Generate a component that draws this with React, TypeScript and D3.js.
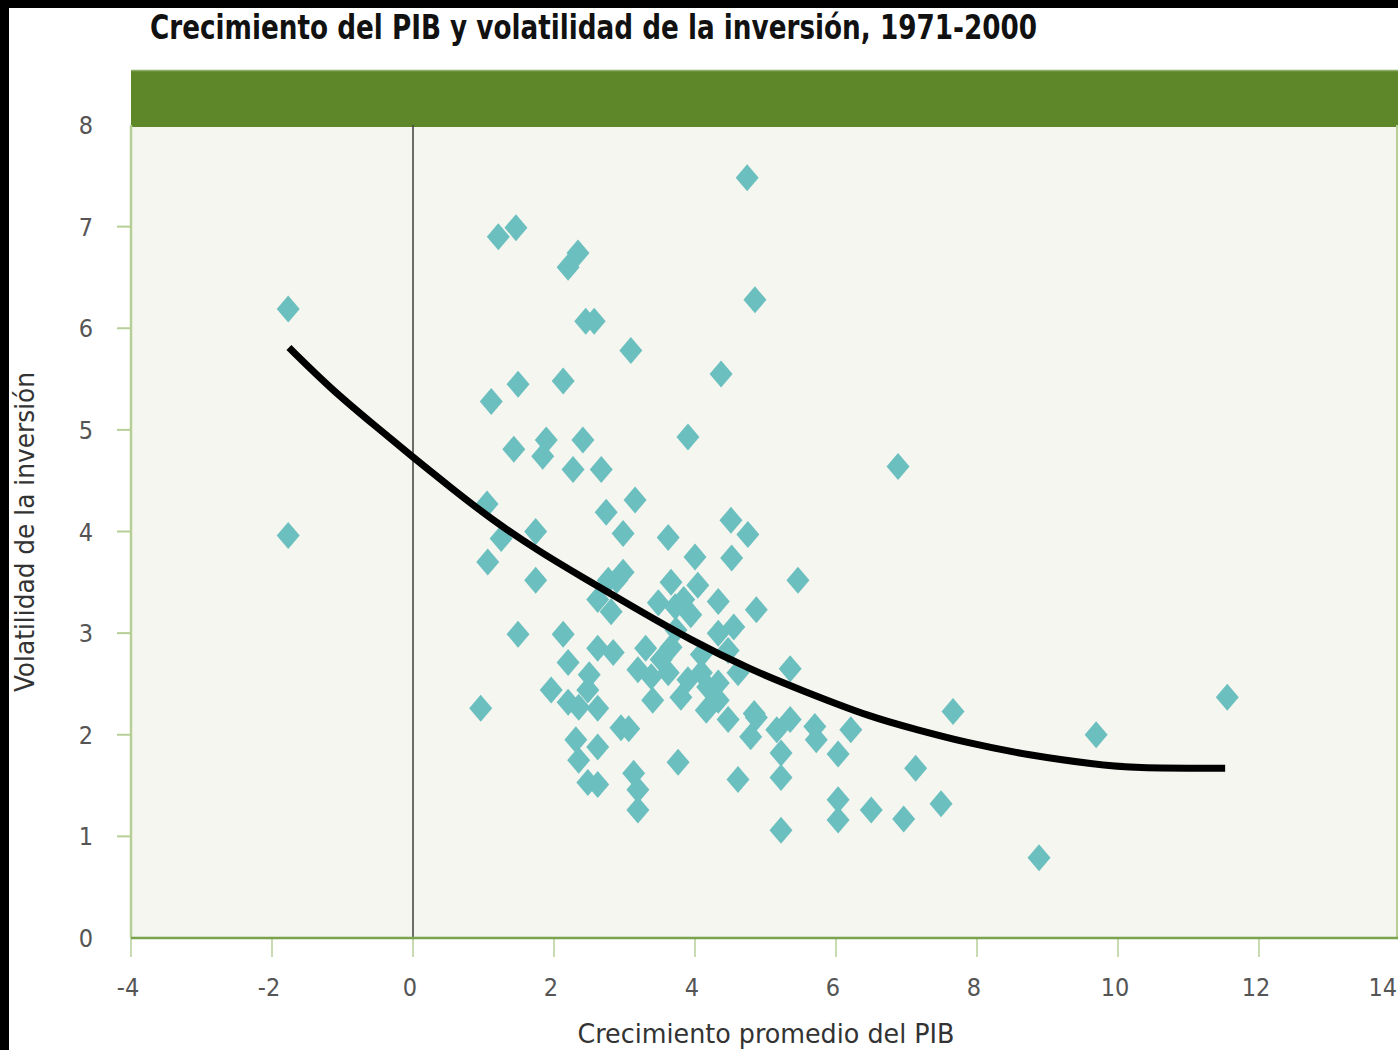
import React from "react";
import * as d3 from "d3";

const titleText = "Crecimiento del PIB y volatilidad de la inversión, 1971-2000";
const xAxisTitle = "Crecimiento promedio del PIB";
const yAxisTitle = "Volatilidad de la inversión";

const xTicks = [-4, -2, 0, 2, 4, 6, 8, 10, 12, 14];
const yTicks = [0, 1, 2, 3, 4, 5, 6, 7, 8];

const growth = [
  -1.77, -1.77, 0.96, 1.11, 1.06, 1.05, 1.21, 1.46, 1.25, 1.43, 1.49, 1.49, 1.74, 1.74, 1.96, 1.89, 1.84,
  2.13, 2.13, 2.2, 2.34, 2.45, 2.57, 2.41, 2.27, 2.67, 3.09, 3.9, 4.85, 4.37, 4.74, 2.74, 3.15, 4.51,
  2.98, 3.62, 4.0, 4.75, 4.52, 5.46, 6.88, 11.55, 9.69, 7.66, 8.88, 2.2, 2.62, 2.84, 3.3, 2.98, 2.77,
  2.62, 2.81, 3.48, 3.66, 3.84, 3.94, 4.04, 4.33, 4.87, 5.35, 4.33, 4.55, 4.47, 4.61, 3.19, 3.38, 3.4,
  3.62, 3.9, 4.09, 4.18, 3.8, 4.16, 4.33, 4.47, 2.5, 2.48, 2.2, 2.35, 2.62, 2.95, 2.31, 2.62, 2.35, 2.48,
  2.62, 3.13, 3.19, 3.19, 3.76, 4.61, 4.84, 4.79, 5.16, 5.35, 5.22, 5.22, 5.22, 5.7, 5.72, 6.21, 6.03,
  6.03, 6.03, 6.5, 6.96, 7.13, 7.49, 4.87, 3.66, 3.73, 3.52, 4.09, 4.33, 3.06, 2.89, 3.72,
];
const volatility = [
  6.19, 3.96, 2.26, 5.28, 3.7, 4.27, 6.9, 6.99, 3.93, 4.81, 5.45, 2.99, 4.0, 3.52, 2.44, 4.9, 4.74,
  5.48, 2.99, 6.6, 6.74, 6.07, 6.07, 4.9, 4.61, 4.61, 5.78, 4.93, 6.28, 5.55, 7.48, 4.19, 4.31, 4.11,
  3.98, 3.94, 3.75, 3.97, 3.74, 3.52, 4.64, 2.37, 2.0, 2.23, 0.79, 2.71, 2.85, 2.81, 2.85, 3.6, 3.52,
  3.33, 3.21, 3.3, 3.5, 3.33, 3.18, 3.47, 3.31, 3.23, 2.65, 3.0, 3.06, 2.83, 2.61, 2.64, 2.57, 2.34,
  2.61, 2.54, 2.61, 2.47, 2.37, 2.24, 2.34, 2.15, 2.59, 2.44, 2.32, 2.27, 2.26, 2.07, 1.95, 1.88, 1.75, 1.53,
  1.51, 1.62, 1.46, 1.26, 1.73, 1.56, 2.21, 1.98, 2.05, 2.15, 1.82, 1.58, 1.06, 2.08, 1.95, 2.05, 1.81,
  1.36, 1.16, 1.26, 1.17, 1.67, 1.32, 2.17, 2.86, 3.03, 2.74, 2.79, 2.51, 2.06, 3.52, 3.26,
];

const fitGrowth = [-1.76, -1.16, -0.52, 0, 0.54, 1.11, 1.82, 2.38, 3.09, 3.94, 4.79, 5.5, 6.5, 7.15, 7.79, 8.79, 9.67, 10.2, 11.52];
const fitVolatility = [5.81, 5.4, 5.03, 4.73, 4.43, 4.12, 3.79, 3.56, 3.27, 2.93, 2.64, 2.44, 2.17, 2.05, 1.93, 1.79, 1.71, 1.67, 1.67];

const W = 1398;
const H = 1050;
const plotLeft = 131;
const plotRight = 1398;
const plotTop = 125;
const plotBottom = 938;
const bandTop = 70;

const labelFont = "'Liberation Sans Narrow', 'DejaVu Sans Condensed', 'Open Sans', sans-serif";

export default function App() {
  const x = d3.scaleLinear().domain([-4, 14]).range([plotLeft, 1400]);
  const y = d3.scaleLinear().domain([0, 8]).range([plotBottom, plotTop]);

  const pts = growth.map((g, i) => ({ g, v: volatility[i] }));
  const fit = fitGrowth.map((g, i) => ({ g, v: fitVolatility[i] }));
  const line = d3
    .line<{ g: number; v: number }>()
    .x((d) => x(d.g))
    .y((d) => y(d.v))
    .curve(d3.curveBasis);

  const hw = 11.5;
  const hh = 13.5;
  const diamond = (cx: number, cy: number) =>
    `M${cx},${cy - hh}L${cx + hw},${cy}L${cx},${cy + hh}L${cx - hw},${cy}Z`;

  return (
    <svg
      width={W}
      height={H}
      style={{ position: "absolute", left: 0, top: 0, display: "block" }}
    >
      <rect x={0} y={0} width={W} height={H} fill="#ffffff" />
      <rect x={0} y={0} width={W} height={8} fill="#000000" />
      <rect x={0} y={0} width={9} height={H} fill="#000000" />

      <text
        x={150}
        y={39}
        fontFamily={labelFont}
        fontWeight="bold"
        fontSize={33}
        fill="#111"
        textLength={887}
        lengthAdjust="spacingAndGlyphs"
      >
        {titleText}
      </text>

      {/* green header band */}
      <rect x={plotLeft} y={bandTop} width={plotRight - plotLeft} height={plotTop - bandTop + 2} fill="#5e872a" />
      <line x1={plotLeft} x2={plotRight} y1={bandTop + 0.5} y2={bandTop + 0.5} stroke="#8fae6a" strokeWidth={1.5} />

      {/* plot background */}
      <rect x={plotLeft} y={plotTop + 2} width={plotRight - plotLeft} height={plotBottom - plotTop - 2} fill="#f5f6f0" />
      <line x1={plotRight - 1} x2={plotRight - 1} y1={plotTop} y2={plotBottom} stroke="#b6cf97" strokeWidth={2} />

      {/* zero line */}
      <line x1={x(0)} x2={x(0)} y1={plotTop} y2={plotBottom} stroke="#4a4a4a" strokeWidth={1.6} />

      {/* axes */}
      <line x1={plotLeft} x2={plotLeft} y1={plotTop} y2={plotBottom} stroke="#b6cf97" strokeWidth={2.5} />
      {yTicks
        .filter((t) => t > 0 && t < 8)
        .map((t) => (
          <line key={"yt" + t} x1={plotLeft - 14} x2={plotLeft} y1={y(t)} y2={y(t)} stroke="#b6cf97" strokeWidth={2} />
        ))}
      {xTicks.map((t) => (
        <line key={"xt" + t} x1={x(t)} x2={x(t)} y1={plotBottom} y2={plotBottom + 19} stroke="#b6cf97" strokeWidth={1.5} />
      ))}
      <line x1={plotLeft} x2={plotRight} y1={plotBottom} y2={plotBottom} stroke="#7aa24c" strokeWidth={2.5} />

      {yTicks.map((t) => (
        <text
          key={"yl" + t}
          x={86}
          y={y(t) + 9}
          textAnchor="middle"
          fontFamily={labelFont}
          fontSize={25}
          fill="#555"
        >
          {t}
        </text>
      ))}
      {xTicks.map((t) => {
        const last = t === 14;
        return (
          <text
            key={"xl" + t}
            x={last ? W - 1 : x(t) - 3}
            y={996}
            textAnchor={last ? "end" : "middle"}
            fontFamily={labelFont}
            fontSize={25}
            fill="#555"
          >
            {t}
          </text>
        );
      })}

      <text
        x={766}
        y={1043}
        textAnchor="middle"
        fontFamily={labelFont}
        fontSize={27}
        fill="#333"
        textLength={377}
        lengthAdjust="spacingAndGlyphs"
      >
        {xAxisTitle}
      </text>
      <text
        transform={`translate(34,532) rotate(-90)`}
        textAnchor="middle"
        fontFamily={labelFont}
        fontSize={27}
        fill="#333"
        textLength={320}
        lengthAdjust="spacingAndGlyphs"
      >
        {yAxisTitle}
      </text>

      {/* points */}
      <g fill="#6cbfbf">
        {pts.map((p, i) => (
          <path key={"p" + i} d={diamond(x(p.g), y(p.v))} />
        ))}
      </g>

      {/* fitted curve */}
      <path d={line(fit) || ""} fill="none" stroke="#000" strokeWidth={7} strokeLinejoin="round" />
    </svg>
  );
}
